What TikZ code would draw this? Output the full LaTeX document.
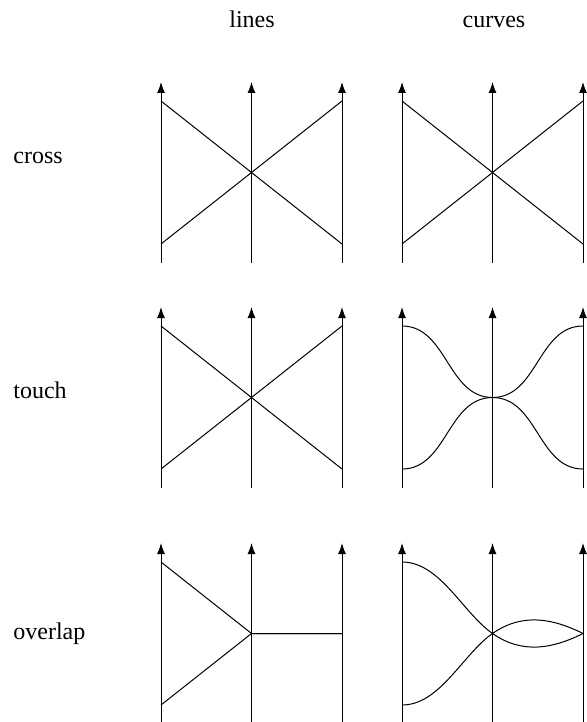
\documentclass[tikz,border=0pt]{standalone}
\usepackage{fontspec}
\setmainfont{Liberation Serif}
\newfontfamily\labelfont{Liberation Serif}
\usetikzlibrary{arrows.meta}
\tikzset{
  axis/.style={-{Latex[length=5.5pt,width=4pt]},line width=0.5pt},
  strand/.style={line width=0.5pt},
  rowlabel/.style={anchor=base west,inner sep=0pt,font=\labelfont\fontsize{12}{14}\selectfont},
  collabel/.style={anchor=base,inner sep=0pt,font=\labelfont\fontsize{12}{14}\selectfont}
}

\begin{document}
\begin{tikzpicture}[x=0.5pt,y=-0.5pt]
  \useasboundingbox (0,0) rectangle (587,722);
  % column and row titles
  \node[collabel] (tlines) at (252,28) {lines};
  \node[collabel] (tcurves) at (494,28) {curves};
  \node[rowlabel] (rcross) at (13,163) {cross};
  \node[rowlabel] (rtouch) at (13,398) {touch};
  \node[rowlabel] (roverlap) at (13,639) {overlap};
  % three axes per panel, named base/tip/hi/mid/lo
  \foreach \r/\yb in {1/263,2/488,3/724}{
    \foreach \c/\xl in {1/161,2/402}{
      \foreach \k/\dx in {a/0,b/90.5,c/181}{
        \coordinate (base\r\c\k) at (\xl+\dx,\yb);
        \coordinate (tip\r\c\k) at (\xl+\dx,\yb-181);
        \coordinate (hi\r\c\k) at (\xl+\dx,\yb-162);
        \coordinate (mid\r\c\k) at (\xl+\dx,\yb-90.5);
        \coordinate (lo\r\c\k) at (\xl+\dx,\yb-19);
        \draw[axis] (base\r\c\k) -- (tip\r\c\k);
      }
    }
  }
  % cross
  \draw[strand] (hi11a) -- (lo11c);
  \draw[strand] (lo11a) -- (hi11c);
  \draw[strand] (hi12a) -- (lo12c);
  \draw[strand] (lo12a) -- (hi12c);
  % touch
  \draw[strand] (hi21a) -- (lo21c);
  \draw[strand] (lo21a) -- (hi21c);
  \draw[strand] (hi22a) .. controls +(45,0) and +(-45,0) .. (mid22b)
    .. controls +(45,0) and +(-45,0) .. (hi22c);
  \draw[strand] (lo22a) .. controls +(45,0) and +(-45,0) .. (mid22b)
    .. controls +(45,0) and +(-45,0) .. (lo22c);
  % overlap
  \draw[strand] (hi31a) -- (mid31b) -- (mid31c);
  \draw[strand] (lo31a) -- (mid31b) -- (mid31c);
  \draw[strand] (hi32a) .. controls +(38,0) and +(-30,-21) .. (mid32b)
    .. controls +(30,21) and +(-30,15) .. (mid32c);
  \draw[strand] (lo32a) .. controls +(38,0) and +(-30,21) .. (mid32b)
    .. controls +(30,-21) and +(-30,-15) .. (mid32c);
\end{tikzpicture}
\end{document}
